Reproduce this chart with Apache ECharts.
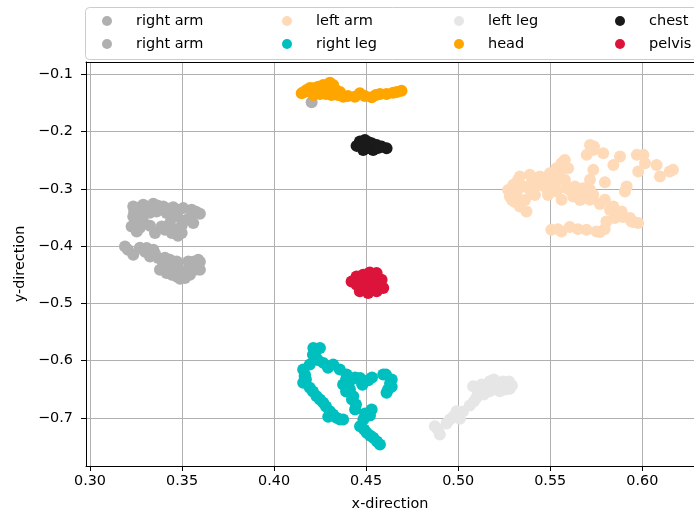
<!DOCTYPE html>
<html>
<head>
<meta charset="utf-8">
<script src="https://cdn.jsdelivr.net/npm/echarts@6/dist/echarts.min.js"></script>
<style>html,body{margin:0;padding:0;background:#fff}#c{width:694px;height:518px}</style>
</head>
<body>
<div id="c"></div>
<script>
var xTicks = [0.30, 0.35, 0.40, 0.45, 0.50, 0.55, 0.60];
var yTicks = [-0.7, -0.6, -0.5, -0.4, -0.3, -0.2, -0.1];

var rightArmA = [
  [0.3235,-0.3309],[0.3289,-0.3280],[0.3344,-0.3262],[0.3398,-0.3309],[0.3452,-0.3320],
  [0.3507,-0.3337],[0.3552,-0.3367],[0.3597,-0.3436],[0.3561,-0.3599],[0.3525,-0.3541],
  [0.3471,-0.3483],[0.3416,-0.3424],[0.3362,-0.3396],[0.3289,-0.3424],[0.3235,-0.3483],
  [0.3226,-0.3658],[0.3254,-0.3745],[0.3289,-0.3571],[0.3353,-0.3773],[0.3389,-0.3658],
  [0.3434,-0.3599],[0.3471,-0.3715],[0.3498,-0.3773],[0.3444,-0.3773],[0.3240,-0.3400],
  [0.3320,-0.3330],[0.3250,-0.3600],[0.3261,-0.3332],[0.3315,-0.3314],[0.3369,-0.3297],
  [0.3424,-0.3349],[0.3478,-0.3367],[0.3576,-0.3402],[0.3543,-0.3506],[0.3244,-0.3576],
  [0.3271,-0.3681],[0.3326,-0.3646],[0.3407,-0.3716],[0.3478,-0.3820],[0.3326,-0.3420],
  [0.3498,-0.3646]
];
var rightArmB = [
  [0.3190,-0.4007],[0.3235,-0.4151],[0.3308,-0.4035],[0.3344,-0.4064],[0.3326,-0.4181],
  [0.3371,-0.4209],[0.3398,-0.4296],[0.3434,-0.4239],[0.3471,-0.4268],[0.3444,-0.4413],
  [0.3416,-0.4471],[0.3471,-0.4530],[0.3516,-0.4558],[0.3507,-0.4443],[0.3534,-0.4268],
  [0.3588,-0.4239],[0.3597,-0.4413],[0.3543,-0.4383],[0.3380,-0.4413],[0.3420,-0.4350],
  [0.3206,-0.4064],[0.3271,-0.4029],[0.3299,-0.4099],[0.3353,-0.4134],[0.3407,-0.4204],
  [0.3424,-0.4326],[0.3478,-0.4378],[0.3445,-0.4500],[0.3489,-0.4570],[0.3543,-0.4500],
  [0.3559,-0.4274],[0.3597,-0.4274],[0.3570,-0.4413],
  [0.4204,-0.1488]
];
var leftArm = [
  [0.5281,-0.3135],[0.5317,-0.3075],[0.5299,-0.2931],[0.5335,-0.2786],[0.5389,-0.2756],
  [0.5444,-0.2786],[0.5498,-0.2727],[0.5534,-0.2639],[0.5561,-0.2552],[0.5579,-0.2495],
  [0.5597,-0.2639],[0.5335,-0.3309],[0.5371,-0.3396],[0.5353,-0.2960],[0.5426,-0.2901],
  [0.5480,-0.2988],[0.5535,-0.3047],[0.5562,-0.3192],[0.5589,-0.2988],[0.5634,-0.2960],
  [0.5680,-0.2988],[0.5716,-0.3018],[0.5734,-0.3105],[0.5680,-0.3163],[0.5625,-0.3135],
  [0.5716,-0.3192],[0.5716,-0.2233],[0.5738,-0.2263],[0.5698,-0.2407],[0.5788,-0.2378],
  [0.5879,-0.2437],[0.5843,-0.2582],[0.5734,-0.2669],[0.5716,-0.2843],[0.5797,-0.2884],
  [0.5915,-0.2960],[0.5906,-0.3047],[0.5797,-0.3192],[0.5843,-0.3309],[0.5888,-0.3396],
  [0.5933,-0.3511],[0.5978,-0.3599],[0.5970,-0.2407],[0.6006,-0.2407],[0.6015,-0.2552],
  [0.5978,-0.2699],[0.6078,-0.2582],[0.6096,-0.2786],[0.6149,-0.2699],[0.6167,-0.2669],
  [0.5506,-0.3715],[0.5561,-0.3745],[0.5606,-0.3668],[0.5697,-0.3715],[0.5751,-0.3745],
  [0.5796,-0.3703],[0.5805,-0.3571],[0.5850,-0.3511],[0.5895,-0.3494],[0.5941,-0.3571],
  [0.5400,-0.2880],[0.5500,-0.2850],[0.5650,-0.3050],
  [0.5271,-0.3021],[0.5292,-0.3195],[0.5363,-0.3195],[0.5390,-0.3021],[0.5417,-0.2812],
  [0.5472,-0.2847],[0.5510,-0.2812],[0.5526,-0.2934],[0.5553,-0.2760],[0.5569,-0.2638],
  [0.5580,-0.2847],[0.5607,-0.3021],[0.5651,-0.3056],[0.5662,-0.3195],[0.5700,-0.3126],
  [0.5309,-0.3230],[0.5444,-0.2934],[0.5488,-0.3108],[0.5417,-0.3108],[0.5325,-0.2847],
  [0.5825,-0.3370],[0.5770,-0.3265],[0.5868,-0.3439],[0.5955,-0.3578],[0.5732,-0.2321],
  [0.5770,-0.3756],[0.5651,-0.3704],[0.5542,-0.3704]
];
var rightLeg = [
  [0.4213,-0.5779],[0.4249,-0.5779],[0.4222,-0.5895],[0.4158,-0.6157],[0.4194,-0.6070],
  [0.4267,-0.6040],[0.4321,-0.6070],[0.4357,-0.6157],[0.4158,-0.6389],[0.4194,-0.6476],
  [0.4231,-0.6623],[0.4267,-0.6738],[0.4303,-0.6884],[0.4339,-0.7000],[0.4375,-0.7029],
  [0.4294,-0.6982],[0.4394,-0.6244],[0.4421,-0.6331],[0.4467,-0.6302],[0.4512,-0.6344],
  [0.4375,-0.6419],[0.4412,-0.6506],[0.4430,-0.6623],[0.4445,-0.6767],[0.4593,-0.6244],
  [0.4639,-0.6331],[0.4639,-0.6459],[0.4611,-0.6563],[0.4530,-0.6855],[0.4485,-0.7029],
  [0.4467,-0.7146],[0.4503,-0.7261],[0.4539,-0.7348],[0.4575,-0.7465],[0.4166,-0.6270],
  [0.4400,-0.6370],[0.4480,-0.6420],
  [0.4211,-0.5900],[0.4238,-0.5988],[0.4168,-0.6245],[0.4173,-0.6332],[0.4211,-0.6541],
  [0.4249,-0.6681],[0.4282,-0.6803],[0.4320,-0.6943],[0.4358,-0.7030],[0.4293,-0.6123],
  [0.4391,-0.6332],[0.4440,-0.6297],[0.4489,-0.6367],[0.4532,-0.6297],[0.4391,-0.6541],
  [0.4423,-0.6681],[0.4440,-0.6855],[0.4478,-0.6402],[0.4494,-0.6925],[0.4521,-0.6960],
  [0.4489,-0.7204],[0.4521,-0.7309],[0.4559,-0.7413],[0.4608,-0.6245],[0.4630,-0.6402],
  [0.4619,-0.6506]
];
var leftLeg = [
  [0.4873,-0.7146],[0.4900,-0.7291],[0.4937,-0.7099],[0.4973,-0.6982],[0.5009,-0.7017],
  [0.4991,-0.6884],[0.5063,-0.6785],[0.5099,-0.6651],[0.5081,-0.6448],[0.5127,-0.6419],
  [0.5172,-0.6361],[0.5217,-0.6389],[0.5262,-0.6419],[0.5280,-0.6494],[0.5226,-0.6535],
  [0.5172,-0.6535],[0.5139,-0.6593],
  [0.4890,-0.7204],[0.4955,-0.7030],[0.5026,-0.6890],[0.5085,-0.6716],[0.5107,-0.6541],
  [0.5151,-0.6437],[0.5194,-0.6332],[0.5243,-0.6367],[0.5276,-0.6367],[0.5292,-0.6437],
  [0.5200,-0.6472],[0.5254,-0.6506]
];
var head = [
  [0.4150,-0.1331],[0.4177,-0.1274],[0.4213,-0.1244],[0.4240,-0.1216],[0.4267,-0.1187],
  [0.4303,-0.1146],[0.4321,-0.1187],[0.4285,-0.1303],[0.4249,-0.1344],[0.4312,-0.1361],
  [0.4348,-0.1361],[0.4375,-0.1391],[0.4213,-0.1361],[0.4439,-0.1391],[0.4466,-0.1331],
  [0.4530,-0.1401],[0.4575,-0.1344],[0.4611,-0.1344],[0.4647,-0.1321],[0.4692,-0.1286],
  [0.4162,-0.1309],[0.4195,-0.1239],[0.4227,-0.1274],[0.4260,-0.1239],[0.4293,-0.1204],
  [0.4336,-0.1274],[0.4282,-0.1344],[0.4358,-0.1309],[0.4401,-0.1378],[0.4493,-0.1378],
  [0.4553,-0.1361],[0.4667,-0.1309]
];
var chest = [
  [0.4448,-0.2250],[0.4466,-0.2175],[0.4493,-0.2146],[0.4502,-0.2291],[0.4530,-0.2203],
  [0.4557,-0.2233],[0.4584,-0.2263],[0.4611,-0.2291],[0.4538,-0.2320],[0.4484,-0.2320],
  [0.4521,-0.2285],[0.4564,-0.2285],[0.4467,-0.2233],[0.4510,-0.2181]
];
var pelvis = [
  [0.4421,-0.4617],[0.4448,-0.4530],[0.4484,-0.4500],[0.4520,-0.4460],[0.4557,-0.4471],
  [0.4584,-0.4587],[0.4593,-0.4732],[0.4557,-0.4791],[0.4511,-0.4819],[0.4466,-0.4791],
  [0.4448,-0.4675],[0.4502,-0.4645],[0.4538,-0.4645],
  [0.4440,-0.4622],[0.4478,-0.4552],[0.4532,-0.4552],[0.4565,-0.4692],[0.4489,-0.4727],
  [0.4532,-0.4762]
];

var seriesDefs = [
  {id:'ra1', name:'right arm', data:rightArmA, color:'#b0b0b0'},
  {id:'ra2', name:'right arm', data:rightArmB, color:'#b0b0b0'},
  {id:'la', name:'left arm', data:leftArm, color:'#ffdab9'},
  {id:'rl', name:'right leg', data:rightLeg, color:'#00bfbf'},
  {id:'ll', name:'left leg', data:leftLeg, color:'#e6e6e6'},
  {id:'hd', name:'head', data:head, color:'#ffa500'},
  {id:'ch', name:'chest', data:chest, color:'#1a1a1a'},
  {id:'pv', name:'pelvis', data:pelvis, color:'#dc143c'}
];

var FONT = 'DejaVu Sans';
var legendPos = [
  {name:'right arm', left:102, row:0},
  {name:'right arm', left:102, row:1},
  {name:'left arm', left:282, row:0},
  {name:'right leg', left:282, row:1},
  {name:'left leg', left:454, row:0},
  {name:'head', left:454, row:1},
  {name:'chest', left:615, row:0},
  {name:'pelvis', left:615, row:1}
];
var legends = legendPos.map(function (p) {
  return {
    data: [p.name], left: p.left, top: p.row === 0 ? 13 : 36,
    padding: 0, itemWidth: 10, itemHeight: 10, icon: 'circle', selectedMode: false,
    textStyle: {fontFamily: FONT, fontSize: 14.5, color: '#000', lineHeight: 16, padding: [0,0,0,19]}
  };
});

var XMIN = 0.29783, XMAX = 0.6281;
var chart = echarts.init(document.getElementById('c'), null, {renderer: 'canvas'});
chart.setOption({
  animation: false,
  backgroundColor: '#fff',
  graphic: [{
    type: 'rect', left: 85, top: 7, z: -1,
    shape: {width: 640, height: 52, r: 4},
    style: {fill: '#fff', stroke: '#cccccc', lineWidth: 1}
  }],
  legend: legends,
  grid: {left: 86, top: 62, right: 0, bottom: 52},
  xAxis: [{
    type: 'value', min: XMIN, max: XMAX,
    name: 'x-direction', nameLocation: 'middle', nameGap: 31,
    nameTextStyle: {fontFamily: FONT, fontSize: 14.4, color: '#000'},
    axisLine: {show: true, onZero: false, lineStyle: {color: '#000', width: 1}},
    axisTick: {show: true, length: 5, inside: false, customValues: xTicks, lineStyle: {color: '#000'}},
    axisLabel: {customValues: xTicks, margin: 8, fontFamily: FONT, fontSize: 14.4, color: '#000',
      formatter: function (v) { return v.toFixed(2); }},
    splitLine: {show: true, lineStyle: {color: '#b0b0b0', width: 1}}
  }, {
    type: 'value', position: 'top', min: XMIN, max: XMAX,
    axisLine: {show: true, onZero: false, lineStyle: {color: '#000', width: 1}},
    axisTick: {show: false}, axisLabel: {show: false}, splitLine: {show: false}
  }],
  yAxis: {
    type: 'value', min: -0.7841, max: -0.0785,
    name: 'y-direction', nameLocation: 'middle', nameGap: 57, nameRotate: 90,
    nameTextStyle: {fontFamily: FONT, fontSize: 14.4, color: '#000'},
    axisLine: {show: true, onZero: false, lineStyle: {color: '#000', width: 1}},
    axisTick: {show: true, length: 5, inside: false, customValues: yTicks, lineStyle: {color: '#000'}},
    axisLabel: {customValues: yTicks, margin: 13, fontFamily: FONT, fontSize: 14.4, color: '#000',
      formatter: function (v) { return v.toFixed(1).replace('-', '\u2212'); }},
    splitLine: {show: true, lineStyle: {color: '#b0b0b0', width: 1}}
  },
  series: seriesDefs.map(function (s) {
    return {
      type: 'scatter', id: s.id, name: s.name, data: s.data, symbol: 'circle', symbolSize: 12,
      xAxisIndex: 0, yAxisIndex: 0,
      itemStyle: {color: s.color, opacity: 1}, emphasis: {disabled: true}
    };
  })
});
</script>
</body>
</html>
